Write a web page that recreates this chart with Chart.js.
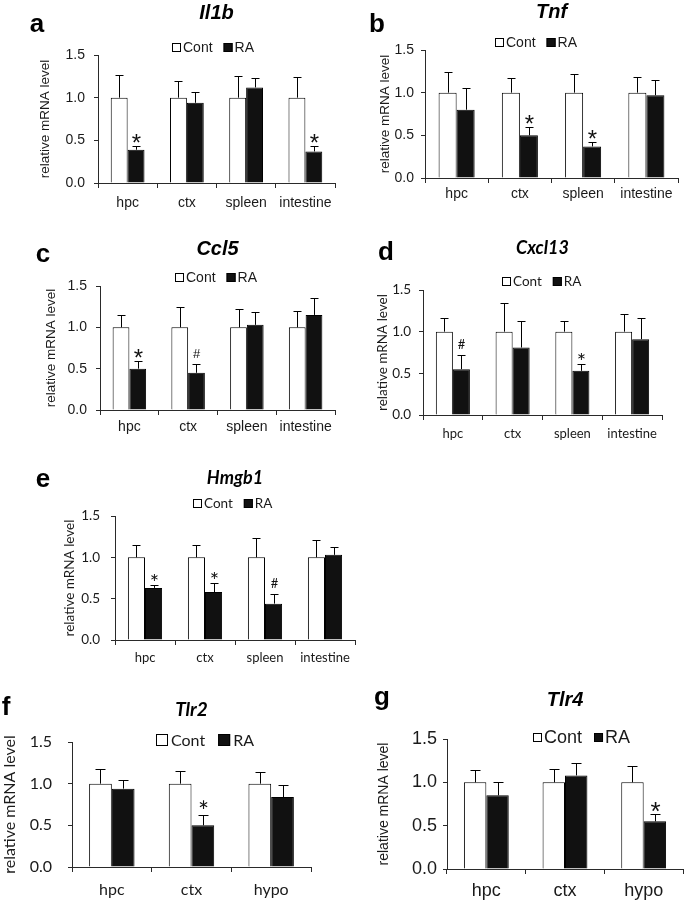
<!DOCTYPE html>
<html>
<head>
<meta charset="utf-8">
<script src="https://cdn.jsdelivr.net/npm/chart.js@4.4.1/dist/chart.umd.min.js"></script>
<style>
  body { margin: 0; background: #fff; overflow: hidden; }
  #fig { position: relative; width: 685px; height: 900px; }
  #fig canvas { position: absolute; }
</style>
</head>
<body>
<div id="fig"></div>
<script>
// --- data ---
const groups = ['Cont', 'RA'];
const tissues = ['hpc', 'ctx', 'spleen', 'intestine'];
const brainRegions = ['hpc', 'ctx', 'hypo'];
const yTicks = [0, 0.5, 1.0, 1.5];
const yLabel = 'relative mRNA level';

// a - Il1b
const il1bCont = [1, 1, 1, 1];
const il1bContSem = [0.26, 0.20, 0.25, 0.24];
const il1bRA = [0.39, 0.94, 1.12, 0.37];
const il1bRASem = [0.04, 0.13, 0.11, 0.06];
const il1bMarks = ['*', '', '', '*'];

// b - Tnf
const tnfCont = [1, 1, 1, 1];
const tnfContSem = [0.24, 0.17, 0.22, 0.18];
const tnfRA = [0.80, 0.50, 0.37, 0.97];
const tnfRASem = [0.25, 0.10, 0.05, 0.18];
const tnfMarks = ['', '*', '*', ''];

// c - Ccl5
const ccl5Cont = [1, 1, 1, 1];
const ccl5ContSem = [0.15, 0.24, 0.22, 0.20];
const ccl5RA = [0.50, 0.45, 1.03, 1.15];
const ccl5RASem = [0.09, 0.11, 0.16, 0.20];
const ccl5Marks = ['*', '#', '', ''];

// d - Cxcl13
const cxcl13Cont = [1, 1, 1, 1];
const cxcl13ContSem = [0.16, 0.35, 0.13, 0.21];
const cxcl13RA = [0.55, 0.81, 0.53, 0.91];
const cxcl13RASem = [0.17, 0.32, 0.08, 0.25];
const cxcl13Marks = ['#', '', '*', ''];

// e - Hmgb1
const hmgb1Cont = [1, 1, 1, 1];
const hmgb1ContSem = [0.15, 0.15, 0.23, 0.21];
const hmgb1RA = [0.63, 0.58, 0.44, 1.03];
const hmgb1RASem = [0.03, 0.11, 0.12, 0.10];
const hmgb1Marks = ['*', '*', '#', ''];

// f - Tlr2
const tlr2Cont = [1, 1, 1];
const tlr2ContSem = [0.18, 0.15, 0.14];
const tlr2RA = [0.94, 0.50, 0.84];
const tlr2RASem = [0.11, 0.12, 0.15];
const tlr2Marks = ['', '*', ''];

// g - Tlr4
const tlr4Cont = [1, 1, 1];
const tlr4ContSem = [0.14, 0.15, 0.19];
const tlr4RA = [0.85, 1.08, 0.55];
const tlr4RASem = [0.15, 0.14, 0.09];
const tlr4Marks = ['', '', '*'];

// --- styling ---
const AXIS = '#2a2a2a';
const TEXT = '#1a1a1a';
const ARIAL = '"Liberation Sans", Arial, sans-serif';
const CALIBRI = 'Lato, "Open Sans", sans-serif';

const lh = size => size * 1.2;

// upward error bars + significance marks
const errorBars = {
  id: 'errorBars',
  afterDatasetsDraw(chart) {
    const o = chart.options.plugins.errorBars;
    const ctx = chart.ctx, y = chart.scales.y;
    ctx.save();
    ctx.strokeStyle = '#000';
    ctx.lineWidth = 1;
    ctx.fillStyle = '#111';
    ctx.textAlign = 'center';
    ctx.textBaseline = 'alphabetic';
    chart.data.datasets.forEach((ds, i) => {
      chart.getDatasetMeta(i).data.forEach((bar, j) => {
        const x = Math.round(bar.x) + 0.5;
        const yBar = y.getPixelForValue(ds.data[j]);
        const yTop = Math.round(y.getPixelForValue(ds.data[j] + ds.sem[j])) + 0.5;
        ctx.beginPath();
        ctx.moveTo(x, yBar);
        ctx.lineTo(x, yTop);
        ctx.moveTo(x - o.cap, yTop);
        ctx.lineTo(x + o.cap, yTop);
        ctx.stroke();
        const m = ds.marks ? ds.marks[j] : '';
        if (m === '*') {
          ctx.font = `${o.star}px ${o.family}`;
          ctx.fillText(m, x, yTop + o.star * 0.2);
        } else if (m === '#') {
          ctx.font = `${o.hash}px ${o.family}`;
          ctx.fillText(m, x, yTop - 7);
        }
      });
    });
    ctx.restore();
  }
};

// panel letter + Cont/RA key
const panelDecor = {
  id: 'panelDecor',
  afterDraw(chart) {
    const o = chart.options.plugins.panelDecor;
    const ctx = chart.ctx;
    ctx.save();
    ctx.fillStyle = '#000';
    ctx.textAlign = 'center';
    ctx.textBaseline = 'middle';
    ctx.font = `bold ${o.letterSize}px ${ARIAL}`;
    ctx.fillText(o.letter, o.letterX, o.letterY);

    ctx.font = `${o.size}px ${o.family}`;
    ctx.textAlign = 'left';
    const items = chart.data.datasets.map(ds => ({ text: ds.label, fill: ds.backgroundColor }));
    const widths = items.map(it => o.box + o.gap + ctx.measureText(it.text).width);
    const total = widths.reduce((a, b) => a + b, 0) + o.spacing * (items.length - 1);
    let x = Math.round(o.x - total / 2);
    const by = Math.round(o.y - o.box / 2);
    items.forEach((it, i) => {
      ctx.fillStyle = it.fill;
      ctx.fillRect(x, by, o.box, o.box);
      ctx.strokeStyle = '#000';
      ctx.lineWidth = 1;
      ctx.strokeRect(x + 0.5, by + 0.5, o.box - 1, o.box - 1);
      ctx.fillStyle = TEXT;
      ctx.fillText(it.text, x + o.box + o.gap, o.y + 1);
      x += widths[i] + o.spacing;
    });
    ctx.restore();
  }
};

function makePanel(p) {
  const canvas = document.createElement('canvas');
  canvas.width = p.box.w;
  canvas.height = p.box.h;
  canvas.style.left = p.box.x + 'px';
  canvas.style.top = p.box.y + 'px';
  document.getElementById('fig').appendChild(canvas);

  const f = p.font;
  const yTickLen = 4, xTickLen = 5;
  const font = size => ({ family: f.family, size: size, lineHeight: 1.2 });

  return new Chart(canvas, {
    type: 'bar',
    data: {
      labels: p.labels,
      datasets: [
        { label: groups[0], data: p.cont, sem: p.contSem, backgroundColor: '#ffffff', borderColor: '#000', borderWidth: 1 },
        { label: groups[1], data: p.ra, sem: p.raSem, marks: p.marks, backgroundColor: '#111111', borderColor: '#000', borderWidth: 1 }
      ]
    },
    options: {
      responsive: false,
      animation: false,
      events: [],
      layout: { padding: { left: 0, top: 0, bottom: 0, right: p.box.x + p.box.w - p.plot.r } },
      datasets: { bar: { categoryPercentage: 0.57, barPercentage: 1.0 } },
      scales: {
        x: {
          grid: { offset: true, drawOnChartArea: false, tickLength: xTickLen, color: AXIS },
          border: { color: AXIS },
          ticks: {
            font: font(f.cat), color: TEXT, maxRotation: 0, autoSkip: false,
            padding: p.catY - p.plot.b - xTickLen - lh(f.cat) / 2
          },
          afterFit: s => { s.height = p.box.y + p.box.h - p.plot.b; }
        },
        y: {
          min: 0,
          max: 1.5,
          afterBuildTicks: s => { s.ticks = yTicks.map(v => ({ value: v })); },
          grid: { drawOnChartArea: false, tickLength: yTickLen, color: AXIS },
          border: { color: AXIS },
          ticks: {
            font: font(f.tick), color: TEXT,
            padding: p.plot.l - yTickLen - p.yTickRight,
            callback: v => v.toFixed(1)
          },
          title: {
            display: true, text: yLabel, color: TEXT, font: font(f.yTitle),
            padding: { top: p.yTitleX - p.box.x - lh(f.yTitle) / 2, bottom: 0 }
          },
          afterFit: s => { s.width = p.plot.l - p.box.x; }
        }
      },
      plugins: {
        legend: { display: false },
        tooltip: { enabled: false },
        title: {
          display: true, text: p.title, fullSize: false, color: '#000',
          font: { family: f.family, size: f.title, weight: 'bold', style: 'italic', lineHeight: 1.2 },
          padding: {
            top: p.titleY - p.box.y - lh(f.title) / 2,
            bottom: p.plot.t - p.titleY - lh(f.title) / 2
          }
        },
        errorBars: { cap: p.cap || 4, family: f.family, star: f.star, hash: f.hash },
        panelDecor: {
          letter: p.letter, letterSize: 26,
          letterX: p.letterAt[0] - p.box.x, letterY: p.letterAt[1] - p.box.y,
          family: f.family, size: f.legend,
          x: p.legend.x - p.box.x, y: p.legend.y - p.box.y,
          box: p.legend.box, gap: p.legend.gap, spacing: p.legend.spacing
        }
      }
    },
    plugins: [errorBars, panelDecor]
  });
}

const smallArial = { family: ARIAL, tick: 14, cat: 14, yTitle: 13.5, title: 20, legend: 14, star: 24, hash: 13 };
const smallCalibri = { family: CALIBRI, tick: 13.5, cat: 13, yTitle: 13.5, title: 18, legend: 13.5, star: 22, hash: 13 };
const smallKey = { box: 9, gap: 2, spacing: 11 };

makePanel({
  letter: 'a', letterAt: [37, 25], title: 'Il1b', labels: tissues,
  cont: il1bCont, contSem: il1bContSem, ra: il1bRA, raSem: il1bRASem, marks: il1bMarks,
  box: { x: 0, y: 0, w: 340, h: 225 }, plot: { l: 98, r: 335, t: 55, b: 183 },
  titleY: 13, yTitleX: 45, yTickRight: 85, catY: 203,
  font: smallArial, legend: { x: 213, y: 47, ...smallKey }
});

makePanel({
  letter: 'b', letterAt: [377, 25], title: 'Tnf', labels: tissues,
  cont: tnfCont, contSem: tnfContSem, ra: tnfRA, raSem: tnfRASem, marks: tnfMarks,
  box: { x: 340, y: 0, w: 345, h: 225 }, plot: { l: 425, r: 678, t: 50, b: 178 },
  titleY: 12, yTitleX: 385, yTickRight: 414, catY: 194,
  font: smallArial, legend: { x: 536, y: 42, ...smallKey }
});

makePanel({
  letter: 'c', letterAt: [43, 255], title: 'Ccl5', labels: tissues,
  cont: ccl5Cont, contSem: ccl5ContSem, ra: ccl5RA, raSem: ccl5RASem, marks: ccl5Marks,
  box: { x: 0, y: 225, w: 340, h: 225 }, plot: { l: 100, r: 335, t: 286, b: 410 },
  titleY: 249, yTitleX: 51, yTickRight: 87, catY: 427,
  font: smallArial, legend: { x: 216, y: 277, ...smallKey }
});

makePanel({
  letter: 'd', letterAt: [386, 253], title: 'Cxcl13', labels: tissues,
  cont: cxcl13Cont, contSem: cxcl13ContSem, ra: cxcl13RA, raSem: cxcl13RASem, marks: cxcl13Marks,
  box: { x: 340, y: 225, w: 345, h: 225 }, plot: { l: 423, r: 662, t: 290, b: 415 },
  titleY: 248, yTitleX: 383, yTickRight: 411, catY: 434,
  font: smallCalibri, legend: { x: 542, y: 281, ...smallKey }
});

makePanel({
  letter: 'e', letterAt: [43, 480], title: 'Hmgb1', labels: tissues,
  cont: hmgb1Cont, contSem: hmgb1ContSem, ra: hmgb1RA, raSem: hmgb1RASem, marks: hmgb1Marks,
  box: { x: 0, y: 450, w: 360, h: 222 }, plot: { l: 115, r: 355, t: 516, b: 640 },
  titleY: 478, yTitleX: 70, yTickRight: 100, catY: 658,
  font: smallCalibri, legend: { x: 233, y: 503, ...smallKey }
});

makePanel({
  letter: 'f', letterAt: [6, 708], title: 'Tlr2', labels: brainRegions,
  cont: tlr2Cont, contSem: tlr2ContSem, ra: tlr2RA, raSem: tlr2RASem, marks: tlr2Marks,
  box: { x: 0, y: 675, w: 340, h: 225 }, plot: { l: 72, r: 311, t: 742, b: 867 },
  titleY: 710, yTitleX: 10, yTickRight: 52, catY: 890, cap: 5,
  font: { family: CALIBRI, tick: 16, cat: 16, yTitle: 16, title: 19, legend: 16, star: 26, hash: 14 },
  legend: { x: 205, y: 740, box: 12, gap: 3, spacing: 13 }
});

makePanel({
  letter: 'g', letterAt: [382, 698], title: 'Tlr4', labels: brainRegions,
  cont: tlr4Cont, contSem: tlr4ContSem, ra: tlr4RA, raSem: tlr4RASem, marks: tlr4Marks,
  box: { x: 345, y: 675, w: 340, h: 225 }, plot: { l: 447, r: 683, t: 739, b: 869 },
  titleY: 700, yTitleX: 384, yTickRight: 437, catY: 891, cap: 5,
  font: { family: ARIAL, tick: 18, cat: 18, yTitle: 14, title: 20, legend: 18, star: 26, hash: 14 },
  legend: { x: 582, y: 737, box: 9, gap: 2, spacing: 12 }
});
</script>
</body>
</html>
